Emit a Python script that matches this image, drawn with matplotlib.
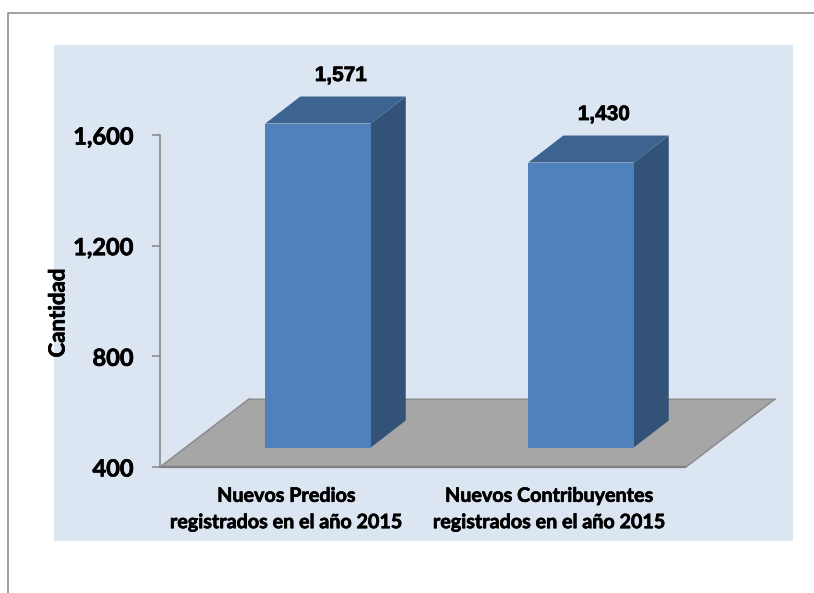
import matplotlib
matplotlib.use('Agg')
import matplotlib.pyplot as plt
import matplotlib.patheffects as pe
from matplotlib.lines import Line2D
from matplotlib.patches import Polygon, Rectangle
from matplotlib.transforms import offset_copy

categories = ['Nuevos Predios\nregistrados en el año 2015',
              'Nuevos Contribuyentes\nregistrados en el año 2015']
values = [1571, 1430]
value_labels = ['1,571', '1,430']
y_ticks = [400, 800, 1200, 1600]
y_tick_labels = ['400', '800', '1,200', '1,600']

W, H = 814, 593
fig = plt.figure(figsize=(W / 100, H / 100), dpi=100)

# outer frame and light blue panel, in pixels from the top left
fig.add_artist(Rectangle((54 / W, 1 - 541 / H), 739 / W, 496 / H, color='#dce6f2', lw=0, zorder=-2))
fig.add_artist(Line2D([8 / W, 8 / W, 1], [0, 1 - 13 / H, 1 - 13 / H], color='#868686', lw=1.1, zorder=-1))

ax = fig.add_axes([160 / W, 1 - 467 / H, 526 / W, 332 / H])
ax.patch.set_visible(False)
ax.set_xlim(0, 2)
ax.set_ylim(400, 1600)

px_x = 2 / 526          # data per pixel
px_y = 1200 / 332
heavier = [pe.withStroke(linewidth=0.5, foreground='black')]

# floor
floor_dx, floor_dy = 89 * px_x, 68 * px_y
ax.add_patch(Polygon([(0, 400), (2, 400), (2 + floor_dx, 400 + floor_dy), (floor_dx, 400 + floor_dy)],
                     facecolor='#a6a6a6', edgecolor='#a0a0a0', lw=0.8, clip_on=False, zorder=2))
ax.plot([0, 2], [400, 400], color='#7f7f7f', lw=1.6, clip_on=False, zorder=3, solid_capstyle='butt')
ax.plot([2, 2 + floor_dx], [400, 400 + floor_dy], color='#8c8c8c', lw=1.0, clip_on=False, zorder=3)
ax.plot([0, floor_dx], [400, 400 + floor_dy], color='#8c8c8c', lw=1.0, clip_on=False, zorder=3)
ax.plot([floor_dx, 2 + floor_dx], [400 + floor_dy, 400 + floor_dy], color='#8c8c8c', lw=0.8, clip_on=False, zorder=3)

# bars, moved back onto the floor
shift_x, shift_y = 26.5, 19.5
tr = offset_copy(ax.transData, fig=fig, x=shift_x, y=shift_y, units='dots')
bar_w = 105.5 * px_x
dx, dy = 35 * px_x, 27 * px_y
centres = [0.5, 1.5]
for c, v, lab in zip(centres, values, value_labels):
    l, r = c - bar_w / 2, c + bar_w / 2
    ax.add_patch(Polygon([(r, 400), (r + dx, 400 + dy), (r + dx, v + dy), (r, v)], transform=tr,
                         facecolor='#325277', edgecolor='none', clip_on=False, zorder=4))
    ax.add_patch(Polygon([(l, v), (r, v), (r + dx, v + dy), (l + dx, v + dy)], transform=tr,
                         facecolor='#3d6391', edgecolor='none', clip_on=False, zorder=4))
    ax.text(c + 23 * px_x, v + dy + 21 * px_y, lab, transform=tr, ha='center', va='center', fontsize=15,
            fontweight='bold', family='Liberation Sans', color='black', clip_on=False,
            path_effects=heavier)
ax.bar(centres, [v - 400 for v in values], width=bar_w, bottom=400, transform=tr,
       color='#4f81bd', clip_on=False, zorder=5)

for s in ['top', 'right', 'bottom']:
    ax.spines[s].set_visible(False)
ax.spines['left'].set_color('#868686')
ax.spines['left'].set_linewidth(1.2)
ax.set_yticks(y_ticks)
ax.set_yticklabels(y_tick_labels, fontsize=17, fontweight='bold', family='Lato', path_effects=heavier)
ax.tick_params(axis='y', length=6, width=1.1, color='#868686', pad=13)
ax.set_xticks([c - 5 * px_x for c in centres])
ax.set_xticklabels(categories, fontsize=14.2, fontweight='bold', family='Lato', linespacing=1.4,
                   path_effects=heavier)
ax.tick_params(axis='x', length=0, pad=13.5)

fig.text(58 / W, 1 - 313 / H, 'Cantidad', rotation=90, ha='center', va='center',
         fontsize=16, fontweight='bold', family='Lato', path_effects=heavier)

fig.savefig('out.png', dpi=100)
